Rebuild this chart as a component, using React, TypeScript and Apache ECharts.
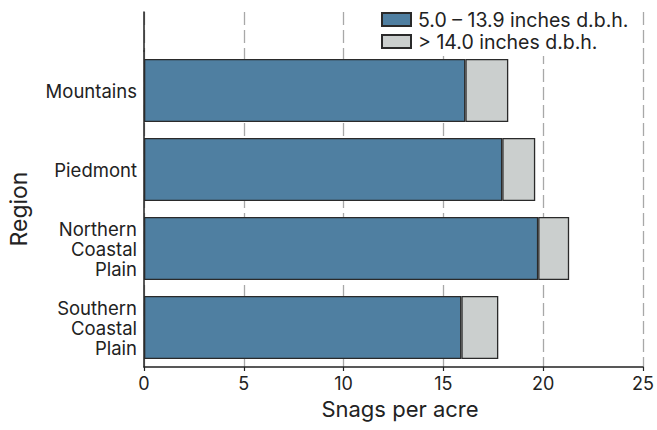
import React, { useEffect, useRef } from "react";
import * as echarts from "echarts";

const regions = ["Mountains", "Piedmont", "Northern\nCoastal\nPlain", "Southern\nCoastal\nPlain"];
const small = [16.1, 17.95, 19.75, 15.9];
const large = [2.15, 1.65, 1.55, 1.85];
const seriesNames = ["5.0 \u2013 13.9 inches d.b.h.", "> 14.0 inches d.b.h."];
const xTicks = { min: 0, max: 25, interval: 5 };

const FONT = "Inter, Liberation Sans, Arial, sans-serif";
const TXT = "#222";
const DASH = { color: "#a8a8a8", width: 1.3, type: [13, 5] as number[] };

export default function App() {
  const ref = useRef<HTMLDivElement>(null);
  useEffect(() => {
    if (!ref.current) return;
    const chart = echarts.init(ref.current, undefined, { renderer: "svg" });
    chart.setOption({
      animation: false,
      backgroundColor: "#fff",
      textStyle: { fontFamily: FONT, color: TXT },
      legend: {
        orient: "vertical",
        left: 377,
        top: 5,
        padding: [4, 2, 4, 4],
        backgroundColor: "#fff",
        itemWidth: 29,
        itemHeight: 13,
        itemGap: 1,
        icon: "rect",
        textStyle: { fontFamily: FONT, fontSize: 19.5, lineHeight: 21, color: TXT, padding: [0, 0, 0, 2] },
        data: seriesNames,
      },
      grid: [
        { left: 144, right: 14, top: 51, bottom: 63, containLabel: false, outerBoundsMode: "none" },
        { left: 144, right: 14, top: 12, height: 39, containLabel: false, outerBoundsMode: "none" },
      ],
      xAxis: [
        {
          type: "value",
          gridIndex: 0,
          min: xTicks.min,
          max: xTicks.max,
          interval: xTicks.interval,
          name: "Snags per acre",
          nameLocation: "middle",
          nameGap: 31,
          nameTextStyle: { fontFamily: FONT, fontSize: 22, color: TXT, padding: [0, 0, 0, 13] },
          axisLine: { show: true, lineStyle: { color: "#222", width: 1.5 } },
          axisTick: { show: true, inside: false, length: 4, lineStyle: { color: "#222", width: 1.2 } },
          axisLabel: { fontFamily: FONT, fontSize: 18, color: TXT, margin: 7 },
          splitLine: { show: true, lineStyle: DASH },
        },
        {
          type: "value",
          gridIndex: 1,
          min: xTicks.min,
          max: xTicks.max,
          interval: xTicks.interval,
          axisLine: { show: false },
          axisTick: { show: false },
          axisLabel: { show: false },
          splitLine: { show: true, lineStyle: DASH },
        },
      ],
      yAxis: [
        {
          type: "category",
          gridIndex: 0,
          inverse: true,
          data: regions,
          name: "Region",
          nameLocation: "middle",
          nameGap: 114,
          nameTextStyle: { fontFamily: FONT, fontSize: 23, color: TXT },
          axisLine: { show: true, lineStyle: { color: "#222", width: 1.5 } },
          axisTick: { show: false },
          axisLabel: { fontFamily: FONT, fontSize: 18.5, lineHeight: 20, color: TXT, margin: 7, align: "right" },
          splitLine: { show: false },
        },
        {
          type: "value",
          gridIndex: 1,
          min: 0,
          max: 1,
          axisLine: { show: true, onZero: false, lineStyle: { color: "#222", width: 1.5 } },
          axisTick: { show: false },
          axisLabel: { show: false },
          splitLine: { show: false },
        },
      ],
      series: [
        {
          name: seriesNames[0],
          type: "bar",
          stack: "total",
          xAxisIndex: 0,
          yAxisIndex: 0,
          barWidth: 63,
          data: small,
          itemStyle: { color: "#4f7fa1", borderColor: "#2a2a2a", borderWidth: 1.3 },
        },
        {
          name: seriesNames[1],
          type: "bar",
          stack: "total",
          xAxisIndex: 0,
          yAxisIndex: 0,
          barWidth: 63,
          data: large,
          itemStyle: { color: "#cbcfce", borderColor: "#2a2a2a", borderWidth: 1.3 },
        },
      ],
    });
    return () => chart.dispose();
  }, []);
  return <div ref={ref} style={{ position: "absolute", left: 0, top: 0, width: 657, height: 430 }} />;
}
